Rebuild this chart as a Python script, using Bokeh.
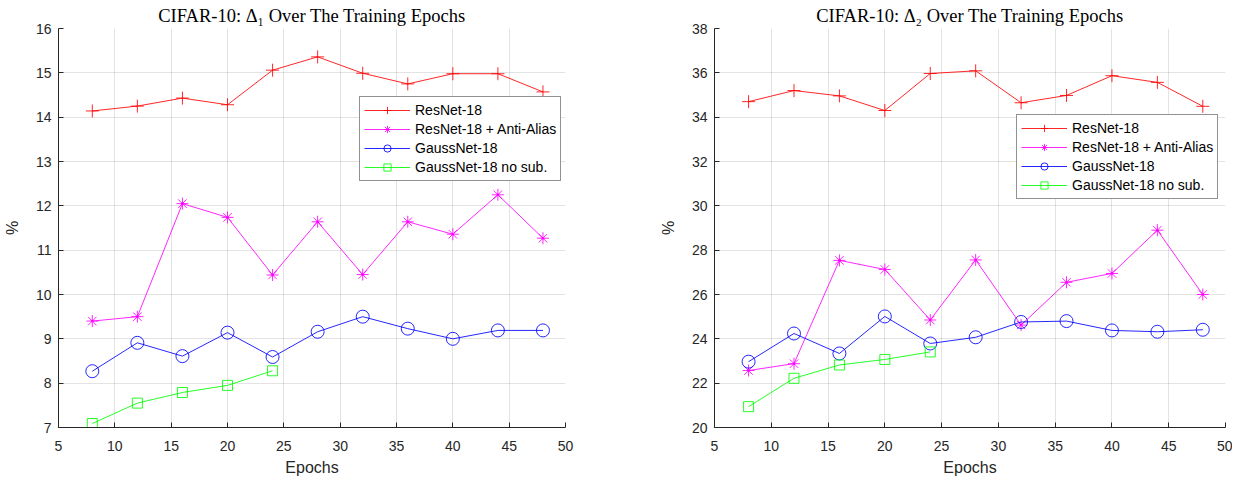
from bokeh.plotting import figure
from bokeh.layouts import row
from bokeh.models import Legend, LegendItem, FixedTicker, Range1d
from bokeh.embed import file_html
from bokeh.resources import INLINE

# ---- data ----
epochs = [8, 12, 16, 20, 24, 28, 32, 36, 40, 44, 48]
epochs_nosub = [8, 12, 16, 20, 24]

series_names = ["ResNet-18", "ResNet-18 + Anti-Alias", "GaussNet-18", "GaussNet-18 no sub."]

resnet_d1 = [14.14, 14.25, 14.43, 14.28, 15.06, 15.36, 14.99, 14.75, 14.98, 14.98, 14.57]
aa_d1 = [9.40, 9.50, 12.05, 11.74, 10.44, 11.64, 10.45, 11.64, 11.36, 12.25, 11.27]
gauss_d1 = [8.27, 8.91, 8.61, 9.14, 8.59, 9.16, 9.50, 9.23, 9.00, 9.19, 9.19]
nosub_d1 = [7.09, 7.55, 7.79, 7.95, 8.28]

resnet_d2 = [34.70, 35.20, 34.96, 34.30, 35.97, 36.09, 34.65, 34.98, 35.87, 35.57, 34.49]
aa_d2 = [22.57, 22.88, 27.54, 27.13, 24.85, 27.56, 24.62, 26.55, 26.95, 28.90, 26.00]
gauss_d2 = [22.97, 24.24, 23.34, 25.01, 23.79, 24.07, 24.76, 24.80, 24.38, 24.32, 24.41]
nosub_d2 = [20.94, 22.22, 22.82, 23.07, 23.41]

x_ticks = [5, 10, 15, 20, 25, 30, 35, 40, 45, 50]
y_ticks_1 = [7, 8, 9, 10, 11, 12, 13, 14, 15, 16]
y_ticks_2 = [20, 22, 24, 26, 28, 30, 32, 34, 36, 38]

titles = ["CIFAR-10: \u0394\u2081 Over The Training Epochs",
          "CIFAR-10: \u0394\u2082 Over The Training Epochs"]

AX = "#262626"
SANS = "Liberation Sans"


def make_fig(title, ys, yticks, width, bl, br, legend_xy):
    p = figure(width=width, height=478, output_backend="svg", toolbar_location=None,
               x_range=Range1d(5, 50), y_range=Range1d(yticks[0], yticks[-1]),
               min_border_left=bl, min_border_right=br, min_border_top=26,
               min_border_bottom=48)
    p.title.text = title
    p.title.text_font = "Liberation Serif"
    p.title.text_font_size = "18.5px"
    p.title.text_font_style = "normal"
    p.title.text_color = "#000000"
    p.title.align = "center"
    p.title.standoff = 6
    p.outline_line_color = None
    p.background_fill_color = "white"

    for ax in (p.xaxis[0], p.yaxis[0]):
        ax.axis_line_color = AX
        ax.major_tick_line_color = AX
        ax.major_tick_in = 5
        ax.major_tick_out = 0
        ax.minor_tick_line_color = None
        ax.major_label_text_font = SANS
        ax.major_label_text_font_size = "14px"
        ax.major_label_text_color = AX
        ax.axis_label_text_font = SANS
        ax.axis_label_text_font_size = "16px"
        ax.axis_label_text_font_style = "normal"
        ax.axis_label_text_color = AX
    p.xaxis.ticker = FixedTicker(ticks=x_ticks)
    p.yaxis.ticker = FixedTicker(ticks=yticks)
    p.xaxis.axis_label = "Epochs"
    p.yaxis.axis_label = "%"
    p.xaxis.major_label_standoff = 13
    p.xaxis.axis_label_standoff = 5
    p.yaxis.major_label_standoff = 7
    p.yaxis.axis_label_standoff = 12

    p.xgrid.grid_line_color = AX
    p.ygrid.grid_line_color = AX
    p.xgrid.grid_line_alpha = 0.13
    p.ygrid.grid_line_alpha = 0.13

    r_res, r_aa, r_ga, r_ns = ys
    specs = [
        (epochs, r_res, "#ff0000", "cross", 13),
        (epochs, r_aa, "#ff00ff", "asterisk", 12),
        (epochs, r_ga, "#0000ff", "circle", 13),
        (epochs_nosub, r_ns, "#00ff00", "square", 10),
    ]
    items = []
    for (xs, yv, col, mk, sz), name in zip(specs, series_names):
        l = p.line(xs, yv, line_color=col, line_width=1, line_alpha=0.85)
        m = p.scatter(xs, yv, marker=mk, size=sz, line_color=col, fill_color=None,
                      line_width=1, line_alpha=0.85)
        if mk == "asterisk":
            p.scatter(xs, yv, marker="circle", size=2.5, line_color=None,
                      fill_color=col)
        items.append(LegendItem(label=name, renderers=[l, m]))

    leg = Legend(items=items, location=legend_xy, orientation="vertical")
    leg.label_text_font = SANS
    leg.label_text_font_size = "14px"
    leg.label_text_color = "#000000"
    leg.glyph_width = 46
    leg.glyph_height = 18
    leg.label_height = 18
    leg.label_standoff = 5
    leg.spacing = 1
    leg.padding = 4
    leg.margin = 0
    leg.border_line_color = AX
    leg.border_line_width = 1
    leg.background_fill_color = "white"
    leg.background_fill_alpha = 1
    p.add_layout(leg, "center")
    return p


p1 = make_fig(titles[0], (resnet_d1, aa_d1, gauss_d1, nosub_d1), y_ticks_1,
              608, 54, 43, (301, 246))
p2 = make_fig(titles[1], (resnet_d2, aa_d2, gauss_d2, nosub_d2), y_ticks_2,
              624, 106, 7, (302, 228))

layout = row(p1, p2)
open("out.html", "w").write(file_html(layout, INLINE))
